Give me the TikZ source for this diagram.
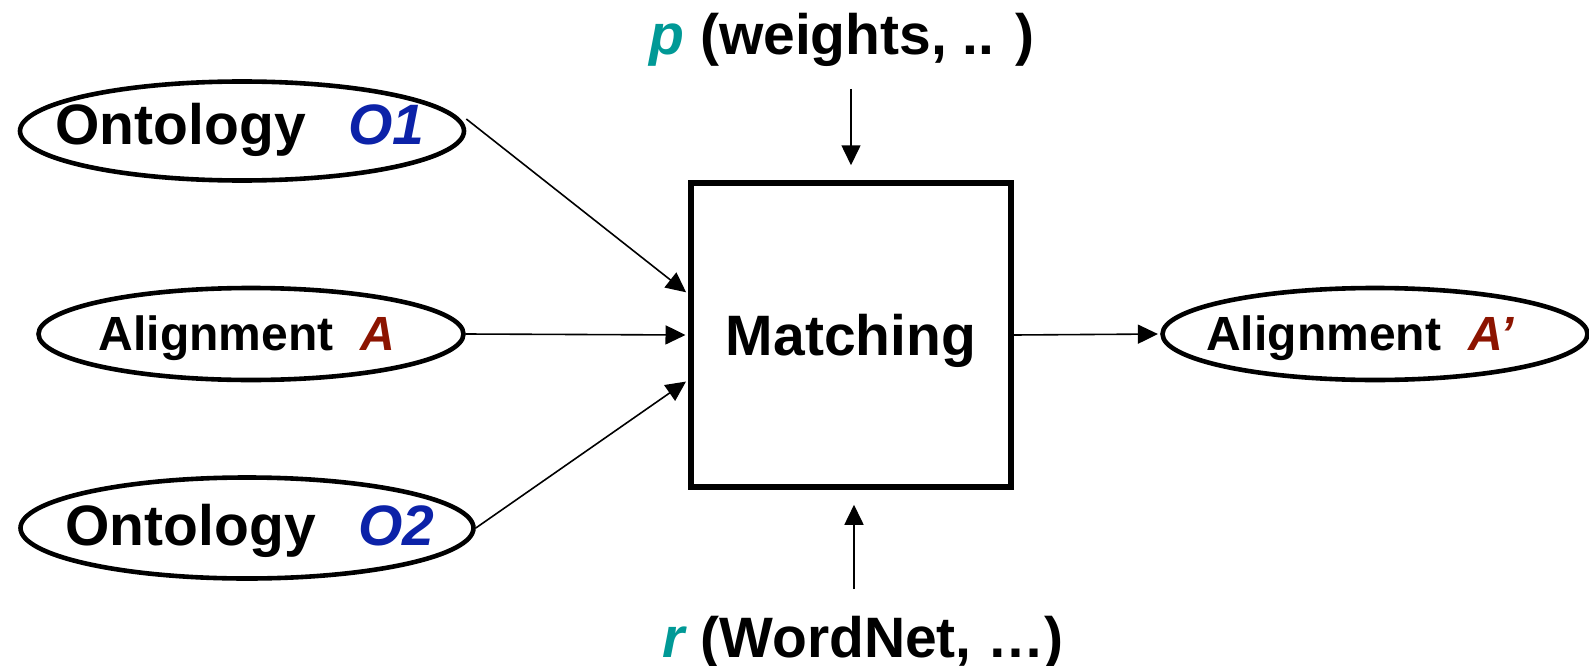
\documentclass[tikz,border=0pt]{standalone}
\usepackage{fontspec}
\setmainfont{Liberation Sans}
\usetikzlibrary{shapes.geometric,arrows.meta}
\definecolor{onblue}{RGB}{12,34,168}
\definecolor{alred}{RGB}{140,20,0}
\definecolor{parteal}{RGB}{0,153,150}
\tikzset{
  oval/.style={ellipse, draw, line width=4.6pt, inner sep=0pt},
  biglbl/.style={anchor=base, inner sep=0pt, font=\bfseries\fontsize{57}{60}\selectfont},
  smalllbl/.style={anchor=base, inner sep=0pt, font=\bfseries\fontsize{48}{50}\selectfont},
  flow/.style={line width=1.6pt, -{Triangle[length=20pt,width=19pt]}},
}
\begin{document}
\begin{tikzpicture}[x=1pt,y=-1pt]
\useasboundingbox (0,0) rectangle (1589,666);

% inputs
\node[oval, minimum width=444pt, minimum height=99pt] (o1) at (242,131) {};
\node[biglbl] (o1t) at (240,144) {Ontology\hspace{0.75em}\textcolor{onblue}{\itshape O1}};

\node[oval, minimum width=425pt, minimum height=92pt] (a) at (251,334) {};
\node[smalllbl] (at) at (247,350) {Alignment\hspace{0.57em}\textcolor{alred}{\itshape A}};

\node[oval, minimum width=453pt, minimum height=101pt] (o2) at (247,528) {};
\node[biglbl] (o2t) at (250,545) {Ontology\hspace{0.75em}\textcolor{onblue}{\itshape O2}};

% matcher
\node[draw, line width=5.5pt, minimum width=320pt, minimum height=304pt, inner sep=0pt] (box) at (851,335) {};
\node[biglbl] (boxt) at (851,355) {Matching};

% output
\node[oval, minimum width=425pt, minimum height=92pt] (ap) at (1375,334) {};
\node[smalllbl] (apt) at (1360,350) {Alignment\hspace{0.57em}\textcolor{alred}{\itshape A’}};

% parameters and resources
\node[biglbl] (pt) at (842,55) {\textcolor{parteal}{\itshape p} (weights, .. )};
\node[biglbl] (rt) at (863,657) {\textcolor{parteal}{\itshape r} (WordNet, …)};
\coordinate (ptail) at (851,89);
\coordinate (rtail) at (854,589);

% connectors
\draw[flow, shorten >=2.75pt] ([yshift=12pt]o1.east) -- ([yshift=41pt]box.west);
\draw[flow, shorten >=2.75pt] (a.east) -- (box.west);
\draw[flow, shorten >=2.75pt] (o2.east) -- ([yshift=-45pt]box.west);
\draw[flow, shorten >=2.3pt] (box.east) -- (ap.west);
\draw[flow] (ptail) -- ([yshift=15pt]box.north);
\draw[flow] (rtail) -- ([xshift=3pt,yshift=-15pt]box.south);
\end{tikzpicture}
\end{document}
